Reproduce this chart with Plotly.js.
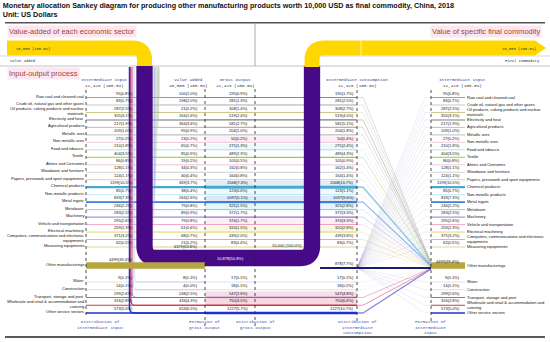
<!DOCTYPE html>
<html><head><meta charset="utf-8">
<script src="https://cdn.plot.ly/plotly-3.0.1.min.js"></script>
<style>html,body{margin:0;padding:0;background:#fff}#chart{width:550px;height:342px}</style>
</head><body><div id="chart"></div>
<script>
// ---------------- DATA ----------------
const sectors = ["Raw coal and cleaned coal","Crude oil, natural gas and other gases","Oil products, coking products and nuclear<br>materials","Electricity and heat","Agricultural products","Metallic ores","Non-metallic ores","Food and tobacco","Textile","Attires and Costumes","Woodware and furniture","Papers, presswork and sport equipments","Chemical products","Non-metallic products","Metal ingots","Metalware","Machinery","Vehicle and transportation","Electrical machinery","Computers, communications and electronic<br>equipments","Measuring equipments","Other manufacturings","Water","Construction","Transport, storage and post","Wholesale and retail & accommodation and<br>catering","Other service sectors"];
const intermediateInput = [95,83,287,355,217,109,27,210,404,86,128,124,1199,85,833,246,283,295,259,371,62,4499,9,14,299,316,573];
const valueAdded = [100,198,21,164,364,95,23,65,85,19,34,40,369,38,264,79,89,79,61,68,21,6379,8,4,248,434,653];
const grossOutput = [195,281,308,519,581,204,50,275,489,105,162,164,1568,123,1097,325,372,374,320,439,83,10878,17,18,547,750,1227];
const intermediateConsumption = [195,281,308,519,581,204,50,275,489,105,162,164,1568,123,1097,325,372,374,320,439,83,878,17,18,547,750,1227];
const totalIntermediateInput = 11428;
const totalValueAdded = 10000;
const totalGrossOutput = 21428;
const totalIntermediateConsumption = 11428;
const finalCommodity = 10000;
const focusSector = "Other manufacturings";

// ---------------- STYLE ----------------
const rowColors = ['#6b6b6b','#98a2b8','#c8c27a','#7d7d7d','#b8b0a0','#9a9a9a','#e8a0c8','#9fdcef','#9acd32','#e0b0d0','#bdbdbd','#b0b8c8','#4aa8d0','#9fdcef','#3d7fd8','#6ccdf0','#9070d0','#f0a0c0','#e0d050','#d8c060','#c8b840','#b5a642','#c0c0e0','#d0b0d0','#c05090','#d03050','#2030d0'];
const rowTint = [0,0,0,0,0,0,1,1,0,0,0,0,1,1,1,1,0,1,1,0,0,0,0,0,1,1,0];
const K = 0.0015; // px per USD
const OTHER = sectors.indexOf(focusSector);
const X_II = 86, X_VA = 205, X_GO = 255, X_IC = 357, X_IN = 431, X_END = 465;
function rowY(i){ if(i<OTHER) return 97.5 + i*7.475; if(i===OTHER) return 265.5; return 282 + (i-OTHER-1)*7.75; }
function fmt(v,tot){ const s = v>=10000 ? v.toLocaleString('en-US') : String(v); return s + '(' + (v/tot*100).toFixed(1) + '%)'; }

const traces = [], annotations = [];
function route(pts, r){
  const X=[pts[0][0]], Y=[pts[0][1]];
  for(let i=1;i<pts.length-1;i++){
    const [ax,ay]=pts[i-1],[px,py]=pts[i],[bx,by]=pts[i+1];
    const d1=Math.hypot(px-ax,py-ay), d2=Math.hypot(bx-px,by-py);
    const rr=Math.min(r,d1*0.9,d2*0.9);
    if(rr<=0){X.push(px);Y.push(py);continue;}
    const sx=px-(px-ax)/d1*rr, sy=py-(py-ay)/d1*rr, ex=px+(bx-px)/d2*rr, ey=py+(by-py)/d2*rr;
    for(let t=0;t<=1.0001;t+=0.1){const u=1-t;X.push(u*u*sx+2*u*t*px+t*t*ex);Y.push(u*u*sy+2*u*t*py+t*t*ey);}
  }
  X.push(pts[pts.length-1][0]); Y.push(pts[pts.length-1][1]);
  return {x:X,y:Y};
}
function line(pts,w,color,o={}){
  const p=route(pts,o.r||0);
  traces.push({type:'scatter',mode:'lines',x:p.x,y:p.y,line:{width:w,color:color,dash:o.dash||'solid',simplify:false},opacity:o.opacity===undefined?1:o.opacity,hoverinfo:'skip',fill:o.fill||'none',fillcolor:o.fillcolor});
}
function label(x,y,text,o={}){
  annotations.push({x:x,y:y,xref:'x',yref:'y',text:text,showarrow:false,xanchor:o.xa||'center',yanchor:'middle',align:o.align||(o.xa==='right'?'right':(o.xa==='left'?'left':'center')),
    font:{family:o.family||'Liberation Sans, Arial, sans-serif',size:o.size||4,color:o.color||'#111'},bgcolor:o.bg||'rgba(0,0,0,0)',borderpad:o.pad||0});
}
const MONO='Liberation Mono, DejaVu Sans Mono, monospace';

// ---------------- ROWS (input-output process) ----------------
sectors.forEach((s,i)=>{
  const y=rowY(i);
  if(rowTint[i]) line([[X_VA,y-3.2],[X_IC,y-3.2]],6,rowColors[i],{opacity:0.18});
  if(i!==OTHER){
    line([[X_II,y],[X_VA,y]],0.5+K*intermediateInput[i],rowColors[i]);
    line([[X_VA,y],[X_IC,y]],0.5+K*grossOutput[i],rowColors[i]);
  }
  line([[X_IN,y],[X_END,y]], i===OTHER?K*intermediateInput[i]:0.5+K*intermediateInput[i], rowColors[i]);
});
// right fan: distribution of intermediate consumption -> formation of intermediate input
sectors.forEach((s,i)=>{
  if(i===OTHER) return;
  const yo = 262.5 + 6.5*i/(sectors.length-1);
  line([[X_IC,rowY(i)],[X_IC+6,rowY(i)],[X_IN,yo]],0.25+K*intermediateConsumption[i]*0.6,rowColors[i],{opacity:0.55});
  line([[X_IC,268],[X_IN-6,rowY(i)],[X_IN,rowY(i)]],0.3,'#4b3c9c',{opacity:0.3});
});
// intermediate consumption of the focus sector
line([[320,268],[X_IN,268]],0.6+K*intermediateConsumption[OTHER],'#1c1c6e');
// value-added flows of the other sectors
sectors.forEach((s,i)=>{
  if(i===OTHER) return;
  const y=rowY(i);
  if(i<OTHER){
    const x=152.6+(OTHER-1-i)*0.33;
    line([[x,67],[x,y],[X_VA,y]],0.25+K*valueAdded[i]*0.8,rowColors[i],{r:3,opacity:0.45});
  } else {
    const x=136-(i-OTHER)*1.3;
    line([[x,67],[x,y],[X_VA,y]],0.5+K*valueAdded[i],rowColors[i],{r:5});
  }
});

// ---------------- MAIN BANDS ----------------
const yGO = 258, xL = 144.5, xR = 312, yTop = 48;
line([[7,yTop],[xL,yTop],[xL,67]],K*finalCommodity,'#ffd700',{r:12});
line([[xL,66],[xL,yGO],[xR,yGO],[xR,66]],K*grossOutput[OTHER],'#470a86',{r:12});
line([[xR,67],[xR,yTop],[535,yTop]],K*finalCommodity,'#ffd700',{r:12});
line([[535,yTop-K*finalCommodity/2],[546,yTop],[535,yTop+K*finalCommodity/2],[535,yTop-K*finalCommodity/2]],0.1,'#ffd700',{fill:'toself',fillcolor:'#ffd700'});
line([[361,yTop-7.5],[361,yTop+7.5]],0.8,'#ffffff');
// focus sector intermediate input band
line([[X_II,265.5],[X_VA,265.5]],K*intermediateInput[OTHER],rowColors[OTHER]);

// dotted axes
[[X_II,90,318],[X_VA,89,327],[X_GO,89,327],[X_IC,90,322],[X_IN,90,322]].forEach(a=>line([[a[0],a[1]],[a[0],a[2]]],0.8,'#222',{dash:'dot'}));

// ---------------- LABELS ----------------
sectors.forEach((s,i)=>{
  const y=rowY(i);
  label(84.5,y-1.5,s,{xa:'right'});
  label(466,y-0.5,s,{xa:'left'});
  if(i===OTHER){
    label(134,259,fmt(intermediateInput[i],totalIntermediateInput),{xa:'right'});
    label(198.5,246,fmt(valueAdded[i],totalValueAdded),{xa:'right'});
    label(230,258,fmt(grossOutput[i],totalGrossOutput),{color:'#ffffff'});
    label(355,263,fmt(intermediateConsumption[i],totalIntermediateConsumption),{xa:'right'});
    label(461,261,fmt(intermediateInput[i],totalIntermediateInput),{xa:'right'});
  } else {
    label(134,y-4.3,fmt(intermediateInput[i],totalIntermediateInput),{xa:'right'});
    label(198.5,y-4.3,fmt(valueAdded[i],totalValueAdded),{xa:'right'});
    label(248.5,y-4.3,fmt(grossOutput[i],totalGrossOutput),{xa:'right'});
    label(355,y-4.3,fmt(intermediateConsumption[i],totalIntermediateConsumption),{xa:'right'});
    label(461,y-4.3,fmt(intermediateInput[i],totalIntermediateInput),{xa:'right'});
  }
});
label(287,245.5,fmt(finalCommodity,finalCommodity).replace('(',' ('),{});
// column headers
const HC='#3c3c9c';
[[104,'Intermediate input',totalIntermediateInput],[188,'Value added',totalValueAdded],[235,'Gross output',totalGrossOutput],[357,'Intermediate consumption',totalIntermediateConsumption],[462,'Intermediate input',totalIntermediateInput]].forEach(h=>{
  label(h[0],79.5,h[1],{family:MONO,size:4.3,color:HC});
  label(h[0],85.5,fmt(h[2],h[2]).replace('(',' ('),{family:MONO,size:4.3,color:'#333'});
});
// bottom stage labels
[[100,'Distribution of<br>intermediate input'],[204,'Formation of<br>gross output'],[255,'Distribution of<br>gross output'],[357,'Distribution of<br>intermediate<br>consumption'],[430,'Formation of<br>intermediate<br>input']].forEach(b=>{
  label(b[0],b[1].split('<br>').length>2?327:324,b[1],{family:MONO,size:4.3,color:'#4050b0'});
});
// top section labels
label(7,31.5,'Value-added of each economic sector',{xa:'left',size:7.5,color:'#9b4a36',bg:'#fde6ef',pad:1});
label(542,31.5,'Value of specific final commodity',{xa:'right',size:7.5,color:'#9b4a36',bg:'#fde6ef',pad:1});
label(7,73,'Input-output process',{xa:'left',size:7.5,color:'#9b4a36',bg:'#fde6ef',pad:1});
label(15,48.5,fmt(finalCommodity,finalCommodity).replace('(',' ('),{xa:'left',family:MONO,size:3.8,color:'#333'});
label(537,48.5,fmt(finalCommodity,finalCommodity).replace('(',' ('),{xa:'right',family:MONO,size:3.8,color:'#333'});
label(9,60.5,'Value added',{xa:'left',family:MONO,size:3.8,color:'#333'});
label(541,60.5,'Final commodity',{xa:'right',family:MONO,size:3.8,color:'#333'});

const layout = {
  width:550,height:342,margin:{l:0,r:0,t:0,b:0},
  paper_bgcolor:'#ffffff',plot_bgcolor:'#ffffff',showlegend:false,hovermode:false,
  xaxis:{range:[0,550],visible:false,fixedrange:true},
  yaxis:{range:[342,0],visible:false,fixedrange:true},
  title:{text:'<b>Monetary allocation Sankey diagram for producing other manufacturing products worth 10,000 USD as final commodity, China, 2018</b><br><b>Unit: US Dollars</b>',
    x:0.005,xanchor:'left',xref:'container',y:0.977,yanchor:'top',yref:'container',font:{family:'Liberation Sans, Arial, sans-serif',size:7.2,color:'#111'}},
  shapes:[
    {type:'line',xref:'x',yref:'y',x0:5,x1:545,y0:22.7,y1:22.7,line:{color:'#555',width:1.5},layer:'below'},
    {type:'line',xref:'x',yref:'y',x0:0,x1:550,y0:66,y1:66,line:{color:'#aaa',width:0.7},layer:'below'},
    {type:'line',xref:'x',yref:'y',x0:0,x1:137,y0:56,y1:56,line:{color:'#bbb',width:0.6},layer:'below'},
    {type:'line',xref:'x',yref:'y',x0:319,x1:550,y0:56,y1:56,line:{color:'#bbb',width:0.6},layer:'below'},
    {type:'line',xref:'x',yref:'y',x0:255,x1:255,y0:22.7,y1:66,line:{color:'#888',width:0.7},layer:'below'},
    {type:'line',xref:'x',yref:'y',x0:5,x1:545,y0:337,y1:337,line:{color:'#222',width:1.5},layer:'below'}
  ],
  annotations:annotations
};
Plotly.newPlot('chart',traces,layout,{displayModeBar:false,staticPlot:true});
</script>
</body></html>
